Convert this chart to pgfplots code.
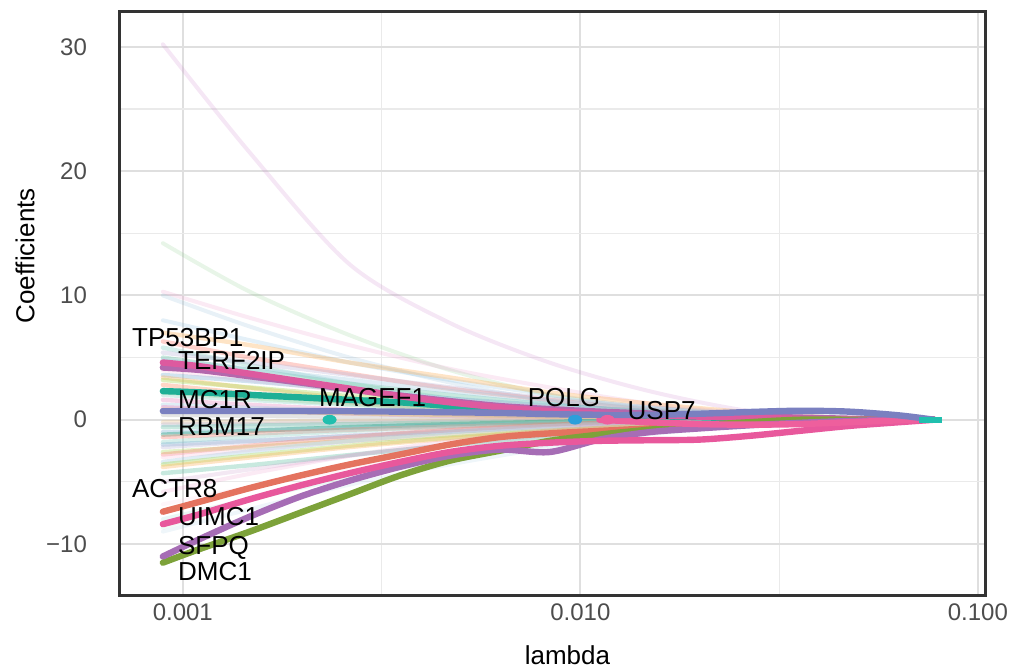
\documentclass[border=0pt]{standalone}
\usepackage{fontspec}
\setmainfont{Liberation Sans}
\usepackage{pgfplots}
\pgfplotsset{compat=1.18}
\usepackage{pgfplotstable}
\definecolor{pA}{HTML}{E78AC3}
\definecolor{pB}{HTML}{80B1D3}
\definecolor{pC}{HTML}{6BAED6}
\definecolor{pD}{HTML}{FDB462}
\definecolor{pE}{HTML}{FB8072}
\definecolor{pF}{HTML}{8DD3C7}
\definecolor{pG}{HTML}{BEBADA}
\definecolor{pH}{HTML}{66C2A5}
\definecolor{pI}{HTML}{B3DE69}
\definecolor{pJ}{HTML}{FCCDE5}
\definecolor{pK}{HTML}{A6D854}
\definecolor{pL}{HTML}{FC8D62}
\definecolor{pM}{HTML}{8DA0CB}
\definecolor{pN}{HTML}{A6CEE3}
\definecolor{pO}{HTML}{FFD92F}
\definecolor{pP}{HTML}{B3B3B3}
\definecolor{pQ}{HTML}{E5C494}
\definecolor{pR}{HTML}{BC80BD}
\definecolor{pS}{HTML}{B3E2CD}
\definecolor{pT}{HTML}{7FC97F}
\definecolor{pU}{HTML}{C77CC7}
\definecolor{pV}{HTML}{B2DF8A}
\definecolor{pW}{HTML}{F781BF}
\definecolor{pX}{HTML}{1B9E77}
\definecolor{cTP}{HTML}{DD5A9F}
\definecolor{cTE}{HTML}{B368AD}
\definecolor{cMC}{HTML}{1FAF96}
\definecolor{cRB}{HTML}{7A80C0}
\definecolor{cAC}{HTML}{E4735F}
\definecolor{cUI}{HTML}{E8589C}
\definecolor{cSF}{HTML}{A66DB5}
\definecolor{cDM}{HTML}{7DA23A}
\definecolor{cMA}{HTML}{20BFAE}
\definecolor{cPO}{HTML}{2B9FDB}
\definecolor{cUS}{HTML}{EE5F9D}
\definecolor{gridmaj}{HTML}{DFDFDF}
\definecolor{gridmin}{HTML}{EAEAEA}
\definecolor{frame}{HTML}{333333}
\definecolor{tickc}{HTML}{4D4D4D}

\pgfplotstableread{
lam tp te mc rb ac ui sf dm
8.91e-4 4.6 4.2 2.3 0.7 -7.4 -8.4 -11.0 -11.5
1.103e-3 4.3 4.0 2.2 0.7 -6.6 -7.6 -9.6 -10.4
1.473e-3 3.7 3.5 2.0 0.7 -5.5 -6.4 -7.8 -9.0
1.968e-3 3.1 3.0 1.8 0.7 -4.5 -5.3 -6.2 -7.5
2.628e-3 2.5 2.45 1.6 0.68 -3.6 -4.3 -4.9 -6.0
3.51e-3 1.9 1.95 1.4 0.65 -2.8 -3.4 -3.8 -4.5
4.687e-3 1.4 1.5 1.1 0.6 -2.0 -2.6 -2.9 -3.3
6.259e-3 1.0 1.1 0.8 0.55 -1.4 -2.1 -2.4 -2.5
8.36e-3 0.7 0.85 0.6 0.45 -1.1 -1.85 -2.6 -1.7
1.1164e-2 0.5 0.65 0.45 0.4 -0.9 -1.7 -1.6 -1.2
1.491e-2 0.35 0.5 0.3 0.4 -0.7 -1.65 -1.0 -0.8
1.9907e-2 0.25 0.38 0.2 0.48 -0.5 -1.6 -0.7 -0.45
2.659e-2 0.15 0.27 0.1 0.62 -0.35 -1.3 -0.45 -0.2
3.5508e-2 0.08 0.17 0.05 0.72 -0.2 -0.9 -0.25 0
4.742e-2 0.03 0.08 0 0.65 -0.1 -0.5 -0.1 0
6.3328e-2 0 0.02 0 0.35 0 -0.2 0 0
7.751e-2 0 0 0 0 0 0 0 0
}\bold

\pgfplotsset{
  fa/.style={color=#1, line width=2.2pt, opacity=0.36, smooth, line cap=round},
  fb/.style={color=#1, line width=2pt, opacity=0.18, smooth, line cap=round},
  bd/.style={color=#1, line width=3.2pt, smooth, line cap=round, line join=round},
}

\begin{document}
\begin{tikzpicture}
\useasboundingbox (-60pt,-37pt) rectangle (453.5pt,297.5pt);
\begin{axis}[
  at={(0,0)}, anchor=south west, scale only axis,
  width=432.5pt, height=291.5pt,
  xmode=log, log basis x=10,
  xmin=0.000695, xmax=0.1042, ymin=-14.1, ymax=32.8,
  xtick={0.001,0.01,0.1}, xticklabels={0.001,0.010,0.100},
  minor xtick={0.003162,0.03162},
  ytick={-10,0,10,20,30}, yticklabels={−10,0,10,20,30},
  minor ytick={-5,5,15,25},
  grid=both,
  major grid style={color=gridmaj, line width=1pt},
  minor grid style={color=gridmin, line width=0.55pt},
  axis line style={color=frame, line width=1.5pt},
  major tick length=0pt, minor tick length=0pt,
  ticklabel style={color=tickc, font=\fontsize{12}{14}\selectfont},
  yticklabel style={xshift=-13pt},
  xticklabel style={yshift=-1pt},
  /pgf/number format/assume math mode=true,
  xlabel={lambda}, ylabel={Coefficients},
  every axis x label/.style={at={(axis description cs:0.5173,-0.103)}, anchor=center, font=\fontsize{13}{15}\selectfont},
  every axis y label/.style={at={(axis description cs:-0.1098,0.5815)}, anchor=center, rotate=90, font=\fontsize{13}{15}\selectfont},
]
% faint paths
\addplot[fb=pU] coordinates {(8.91e-4,30.2)(1.473e-3,21.5)(2.628e-3,12.5)(4.687e-3,7.8)(8.36e-3,4.6)(1.491e-2,2.3)(2.659e-2,0.7)(4.742e-2,0)};
\addplot[fb=pT] coordinates {(8.91e-4,14.2)(1.473e-3,10.3)(2.628e-3,6.8)(4.687e-3,4.0)(8.36e-3,2.0)(1.491e-2,0.9)(2.659e-2,0.3)(4.742e-2,0)};
\addplot[fb=pA] coordinates {(8.91e-4,10.3)(1.473e-3,8.2)(2.628e-3,6.0)(4.687e-3,4.1)(8.36e-3,2.6)(1.491e-2,1.3)(2.659e-2,0.5)(4.742e-2,0)};
\addplot[fb=pB] coordinates {(8.91e-4,10.0)(1.473e-3,7.5)(2.628e-3,5.0)(4.687e-3,3.0)(8.36e-3,1.5)(1.491e-2,0.5)(2.659e-2,0)(4.742e-2,0)};
\addplot[fb=pC] coordinates {(8.91e-4,8.0)(1.473e-3,6.4)(2.628e-3,4.6)(4.687e-3,3.2)(8.36e-3,2.0)(1.491e-2,1.0)(2.659e-2,0.4)(4.742e-2,0)};
\addplot[fa=pD] coordinates {(8.91e-4,7.0)(1.473e-3,6.0)(2.628e-3,4.6)(4.687e-3,3.4)(8.36e-3,2.2)(1.491e-2,1.3)(2.659e-2,0.6)(4.742e-2,0.1)};
\addplot[fa=pE] coordinates {(8.91e-4,6.3)(1.473e-3,5.0)(2.628e-3,3.7)(4.687e-3,2.5)(8.36e-3,1.6)(1.491e-2,0.8)(2.659e-2,0.3)(4.742e-2,0)};
\addplot[fa=pF] coordinates {(8.91e-4,5.8)(1.473e-3,4.4)(2.628e-3,2.9)(4.687e-3,1.7)(8.36e-3,0.9)(1.491e-2,0.3)(2.659e-2,0)(4.742e-2,0)};
\addplot[fa=pG] coordinates {(8.91e-4,5.4)(1.473e-3,4.6)(2.628e-3,3.6)(4.687e-3,2.6)(8.36e-3,1.7)(1.491e-2,1.0)(2.659e-2,0.5)(4.742e-2,0.1)};
\addplot[fa=pH] coordinates {(8.91e-4,5.0)(1.473e-3,4.0)(2.628e-3,2.9)(4.687e-3,2.0)(8.36e-3,1.25)(1.491e-2,0.65)(2.659e-2,0.25)(4.742e-2,0)};
\addplot[fa=pN] coordinates {(8.91e-4,4.8)(1.473e-3,4.1)(2.628e-3,3.2)(4.687e-3,2.3)(8.36e-3,1.5)(1.491e-2,0.9)(2.659e-2,0.43)(4.742e-2,0.1)};
\addplot[fa=pI] coordinates {(8.91e-4,4.6)(1.473e-3,3.5)(2.628e-3,2.3)(4.687e-3,1.4)(8.36e-3,0.7)(1.491e-2,0.2)(2.659e-2,0)(4.742e-2,0)};
\addplot[fa=pJ] coordinates {(8.91e-4,4.0)(1.473e-3,3.2)(2.628e-3,2.3)(4.687e-3,1.6)(8.36e-3,1.0)(1.491e-2,0.5)(2.659e-2,0.2)(4.742e-2,0)};
\addplot[fa=pB] coordinates {(8.91e-4,3.6)(1.473e-3,3.1)(2.628e-3,2.4)(4.687e-3,1.7)(8.36e-3,1.15)(1.491e-2,0.7)(2.659e-2,0.3)(4.742e-2,0.07)};
\addplot[fa=pD] coordinates {(8.91e-4,3.4)(1.473e-3,2.55)(2.628e-3,1.7)(4.687e-3,1.02)(8.36e-3,0.51)(1.491e-2,0.17)(2.659e-2,0)(4.742e-2,0)};
\addplot[fa=pK] coordinates {(8.91e-4,3.2)(1.473e-3,2.6)(2.628e-3,1.9)(4.687e-3,1.3)(8.36e-3,0.8)(1.491e-2,0.4)(2.659e-2,0.16)(4.742e-2,0)};
\addplot[fa=pL] coordinates {(8.91e-4,2.8)(1.473e-3,2.1)(2.628e-3,1.4)(4.687e-3,0.84)(8.36e-3,0.42)(1.491e-2,0.14)(2.659e-2,0)(4.742e-2,0)};
\addplot[fa=pM] coordinates {(8.91e-4,2.4)(1.473e-3,2.0)(2.628e-3,1.6)(4.687e-3,1.15)(8.36e-3,0.77)(1.491e-2,0.46)(2.659e-2,0.22)(4.742e-2,0.05)};
\addplot[fa=pV] coordinates {(8.91e-4,2.2)(1.473e-3,1.76)(2.628e-3,1.28)(4.687e-3,0.88)(8.36e-3,0.55)(1.491e-2,0.29)(2.659e-2,0.11)(4.742e-2,0)};
\addplot[fa=pF] coordinates {(8.91e-4,2.0)(1.473e-3,1.6)(2.628e-3,1.2)(4.687e-3,0.8)(8.36e-3,0.5)(1.491e-2,0.26)(2.659e-2,0.1)(4.742e-2,0)};
\addplot[fa=pA] coordinates {(8.91e-4,1.6)(1.473e-3,1.2)(2.628e-3,0.8)(4.687e-3,0.48)(8.36e-3,0.24)(1.491e-2,0.08)(2.659e-2,0)(4.742e-2,0)};
\addplot[fa=pN] coordinates {(8.91e-4,1.2)(1.473e-3,0.96)(2.628e-3,0.7)(4.687e-3,0.48)(8.36e-3,0.3)(1.491e-2,0.16)(2.659e-2,0.06)(4.742e-2,0)};
\addplot[fa=pW] coordinates {(8.91e-4,1.0)(1.473e-3,0.75)(2.628e-3,0.5)(4.687e-3,0.3)(8.36e-3,0.15)(1.491e-2,0.05)(2.659e-2,0)(4.742e-2,0)};
\addplot[fa=pO] coordinates {(8.91e-4,0.8)(1.473e-3,0.68)(2.628e-3,0.53)(4.687e-3,0.38)(8.36e-3,0.26)(1.491e-2,0.15)(2.659e-2,0.07)(4.742e-2,0.02)};
\addplot[fa=pP] coordinates {(8.91e-4,0.4)(1.473e-3,0.32)(2.628e-3,0.23)(4.687e-3,0.16)(8.36e-3,0.1)(1.491e-2,0.05)(2.659e-2,0.02)(4.742e-2,0)};
\addplot[fa=pQ] coordinates {(8.91e-4,-0.2)(1.473e-3,-0.15)(2.628e-3,-0.1)(4.687e-3,-0.06)(8.36e-3,-0.03)(1.491e-2,-0.01)(2.659e-2,0)(4.742e-2,0)};
\addplot[fa=pG] coordinates {(8.91e-4,-0.4)(1.473e-3,-0.34)(2.628e-3,-0.26)(4.687e-3,-0.19)(8.36e-3,-0.13)(1.491e-2,-0.08)(2.659e-2,-0.04)(4.742e-2,-0.01)};
\addplot[fa=pH] coordinates {(8.91e-4,-0.6)(1.473e-3,-0.48)(2.628e-3,-0.35)(4.687e-3,-0.24)(8.36e-3,-0.15)(1.491e-2,-0.08)(2.659e-2,-0.03)(4.742e-2,0)};
\addplot[fa=pB] coordinates {(8.91e-4,-1.0)(1.473e-3,-0.85)(2.628e-3,-0.66)(4.687e-3,-0.48)(8.36e-3,-0.32)(1.491e-2,-0.19)(2.659e-2,-0.09)(4.742e-2,-0.02)};
\addplot[fa=pX] coordinates {(8.91e-4,-1.2)(1.473e-3,-0.9)(2.628e-3,-0.6)(4.687e-3,-0.36)(8.36e-3,-0.18)(1.491e-2,-0.06)(2.659e-2,0)(4.742e-2,0)};
\addplot[fa=pE] coordinates {(8.91e-4,-1.4)(1.473e-3,-1.12)(2.628e-3,-0.81)(4.687e-3,-0.56)(8.36e-3,-0.35)(1.491e-2,-0.18)(2.659e-2,-0.07)(4.742e-2,0)};
\addplot[fa=pF] coordinates {(8.91e-4,-1.8)(1.473e-3,-1.35)(2.628e-3,-0.9)(4.687e-3,-0.54)(8.36e-3,-0.27)(1.491e-2,-0.09)(2.659e-2,0)(4.742e-2,0)};
\addplot[fa=pB] coordinates {(8.91e-4,-2.0)(1.473e-3,-1.7)(2.628e-3,-1.32)(4.687e-3,-0.96)(8.36e-3,-0.64)(1.491e-2,-0.38)(2.659e-2,-0.18)(4.742e-2,-0.04)};
\addplot[fa=pG] coordinates {(8.91e-4,-2.2)(1.473e-3,-1.76)(2.628e-3,-1.28)(4.687e-3,-0.88)(8.36e-3,-0.55)(1.491e-2,-0.29)(2.659e-2,-0.11)(4.742e-2,0)};
\addplot[fa=pI] coordinates {(8.91e-4,-2.6)(1.473e-3,-2.2)(2.628e-3,-1.7)(4.687e-3,-1.25)(8.36e-3,-0.83)(1.491e-2,-0.49)(2.659e-2,-0.23)(4.742e-2,-0.05)};
\addplot[fa=pE] coordinates {(8.91e-4,-2.8)(1.473e-3,-2.1)(2.628e-3,-1.4)(4.687e-3,-0.84)(8.36e-3,-0.42)(1.491e-2,-0.14)(2.659e-2,0)(4.742e-2,0)};
\addplot[fa=pJ] coordinates {(8.91e-4,-3.0)(1.473e-3,-2.4)(2.628e-3,-1.74)(4.687e-3,-1.2)(8.36e-3,-0.75)(1.491e-2,-0.39)(2.659e-2,-0.15)(4.742e-2,0)};
\addplot[fa=pN] coordinates {(8.91e-4,-3.4)(1.473e-3,-2.55)(2.628e-3,-1.7)(4.687e-3,-1.02)(8.36e-3,-0.51)(1.491e-2,-0.17)(2.659e-2,0)(4.742e-2,0)};
\addplot[fa=pK] coordinates {(8.91e-4,-3.6)(1.473e-3,-2.88)(2.628e-3,-2.09)(4.687e-3,-1.44)(8.36e-3,-0.9)(1.491e-2,-0.47)(2.659e-2,-0.18)(4.742e-2,0)};
\addplot[fa=pD] coordinates {(8.91e-4,-3.8)(1.473e-3,-3.04)(2.628e-3,-2.2)(4.687e-3,-1.52)(8.36e-3,-0.95)(1.491e-2,-0.49)(2.659e-2,-0.19)(4.742e-2,0)};
\addplot[fa=pH] coordinates {(8.91e-4,-4.3)(1.473e-3,-3.66)(2.628e-3,-2.84)(4.687e-3,-2.06)(8.36e-3,-1.38)(1.491e-2,-0.82)(2.659e-2,-0.39)(4.742e-2,-0.09)};
\addplot[fb=pR] coordinates {(8.91e-4,-5.0)(1.473e-3,-4.0)(2.628e-3,-2.9)(4.687e-3,-2.0)(8.36e-3,-1.25)(1.491e-2,-0.65)(2.659e-2,-0.25)(4.742e-2,0)};
\addplot[fb=pA] coordinates {(8.91e-4,-5.8)(1.473e-3,-4.35)(2.628e-3,-2.9)(4.687e-3,-1.74)(8.36e-3,-0.87)(1.491e-2,-0.29)(2.659e-2,0)(4.742e-2,0)};
\addplot[fb=pJ] coordinates {(8.91e-4,-6.8)(1.473e-3,-5.44)(2.628e-3,-3.94)(4.687e-3,-2.72)(8.36e-3,-1.7)(1.491e-2,-0.88)(2.659e-2,-0.34)(4.742e-2,0)};
\addplot[fb=pF] coordinates {(8.91e-4,-8.0)(1.473e-3,-6.4)(2.628e-3,-4.64)(4.687e-3,-3.2)(8.36e-3,-2.0)(1.491e-2,-1.04)(2.659e-2,-0.4)(4.742e-2,0)};
\addplot[fb=pS] coordinates {(8.91e-4,-8.7)(1.473e-3,-6.5)(2.628e-3,-4.35)(4.687e-3,-2.6)(8.36e-3,-1.3)(1.491e-2,-0.44)(2.659e-2,0)(4.742e-2,0)};
\addplot[fb=pN] coordinates {(8.91e-4,-9.0)(1.473e-3,-7.2)(2.628e-3,-5.22)(4.687e-3,-3.6)(8.36e-3,-2.25)(1.491e-2,-1.17)(2.659e-2,-0.45)(4.742e-2,0)};
% bold labelled paths
\addplot[bd=cMC] table[x=lam,y=mc] {\bold};
\addplot[bd=cTE] table[x=lam,y=te] {\bold};
\addplot[bd=cTP] table[x=lam,y=tp] {\bold};
\addplot[bd=cAC] table[x=lam,y=ac] {\bold};
\addplot[bd=cDM] table[x=lam,y=dm] {\bold};
\addplot[bd=cSF] table[x=lam,y=sf] {\bold};
\addplot[bd=cUI] table[x=lam,y=ui] {\bold};
\addplot[bd=cUS] coordinates {(1.1164e-2,0)(1.491e-2,-0.2)(1.9907e-2,-0.35)(2.659e-2,-0.4)(3.5508e-2,-0.35)(4.742e-2,-0.2)(6.3328e-2,-0.05)(7.751e-2,0)};
\addplot[bd=cRB] table[x=lam,y=rb] {\bold};
\addplot[color=cMA, line width=3pt] coordinates {(7.11e-2,0)(8.12e-2,0)};
% entry points
\addplot[only marks, mark=*, mark size=2.2pt, mark options={xscale=1.5, draw=cMA, fill=cMA}] coordinates {(2.34e-3,0)};
\addplot[only marks, mark=*, mark size=2.2pt, mark options={xscale=1.5, draw=cPO, fill=cPO}] coordinates {(9.7e-3,0)};
\addplot[only marks, mark=*, mark size=2.2pt, mark options={xscale=1.5, draw=cUS, fill=cUS}] coordinates {(1.17e-2,0)};
% labels
\begin{scope}[every node/.style={anchor=west, inner sep=0pt, font=\fontsize{13}{15}\selectfont}]
\node at (axis cs:7.44e-4,6.6) {TP53BP1};
\node at (axis cs:9.71e-4,4.75) {TERF2IP};
\node at (axis cs:9.71e-4,1.6) {MC1R};
\node at (axis cs:9.71e-4,-0.55) {RBM17};
\node at (axis cs:2.198e-3,1.77) {MAGEF1};
\node at (axis cs:7.357e-3,1.77) {POLG};
\node at (axis cs:1.312e-2,0.72) {USP7};
\node at (axis cs:7.44e-4,-5.55) {ACTR8};
\node at (axis cs:9.71e-4,-7.8) {UIMC1};
\node at (axis cs:9.71e-4,-10.3) {SFPQ};
\node at (axis cs:9.71e-4,-12.2) {DMC1};
\end{scope}
\end{axis}
\end{tikzpicture}
\end{document}
